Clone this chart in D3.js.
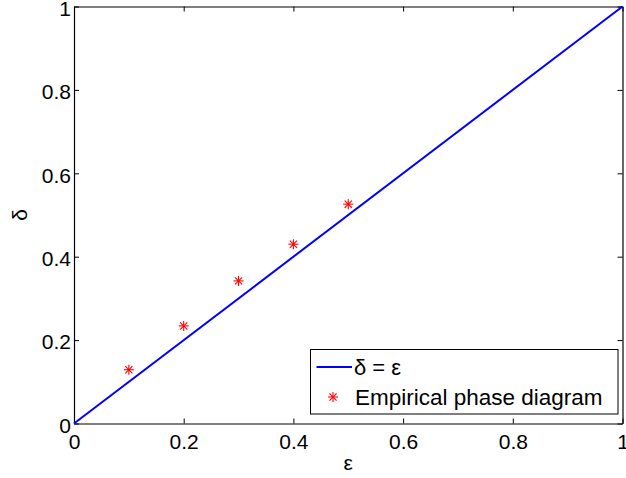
<!DOCTYPE html>
<html><head><meta charset="utf-8">
<script src="https://cdn.jsdelivr.net/npm/d3@7"></script>
<style>body{margin:0;background:#fff}svg{display:block}text{font-family:"Liberation Sans",Arial,sans-serif}</style>
</head><body><svg id="c" width="626" height="478"></svg>
<script>
const tickValues = [0, 0.2, 0.4, 0.6, 0.8, 1];
const tickLabels = ["0", "0.2", "0.4", "0.6", "0.8", "1"];
const lineX = [0, 1];
const lineY = [0, 1];
const empX = [0.1, 0.2, 0.3, 0.4, 0.5];
const empY = [0.129, 0.234, 0.342, 0.430, 0.526];
const legendLabels = ["δ = ε", "Empirical phase diagram"];

const svg = d3.select("#c");
const L = 74, R = 622.5, T = 6.5, B = 423.5;
const x = d3.scaleLinear().domain([0, 1]).range([L, R]);
const y = d3.scaleLinear().domain([0, 1]).range([B, T]);
const fmt = (d) => tickLabels[tickValues.indexOf(d)];
const fs = "21px";

// axes
const gB = svg.append("g").attr("transform", `translate(0,${B})`)
  .call(d3.axisBottom(x).tickValues(tickValues).tickFormat(fmt).tickSizeInner(-5).tickSizeOuter(0).tickPadding(11));
const gT = svg.append("g").attr("transform", `translate(0,${T})`)
  .call(d3.axisTop(x).tickValues(tickValues).tickFormat("").tickSizeInner(-5).tickSizeOuter(0));
const gL = svg.append("g").attr("transform", `translate(${L},0)`)
  .call(d3.axisLeft(y).tickValues(tickValues).tickFormat(fmt).tickSizeInner(-5).tickSizeOuter(0).tickPadding(3));
const gR = svg.append("g").attr("transform", `translate(${R},0)`)
  .call(d3.axisRight(y).tickValues(tickValues).tickFormat("").tickSizeInner(-5).tickSizeOuter(0));
[gB, gT, gL, gR].forEach(g => {
  g.select(".domain").attr("stroke", "#000").attr("stroke-width", 1.2);
  g.selectAll(".tick line").attr("stroke", "#000");
  g.selectAll("text").attr("font-size", fs).attr("fill", "#000").attr("font-family", '"Liberation Sans",Arial,sans-serif');
});
gB.selectAll("text").attr("dy", "0.71em");
gL.selectAll("text").attr("dy", "0.42em");

// line
svg.append("path")
  .datum(lineX.map((d, i) => [d, lineY[i]]))
  .attr("d", d3.line().x(d => x(d[0])).y(d => y(d[1])))
  .attr("fill", "none").attr("stroke", "#0000ff").attr("stroke-width", 2);

// star markers
function star(g, cx, cy, r) {
  const s = g.append("g").attr("transform", `translate(${cx},${cy})`).attr("stroke", "#ff0000").attr("stroke-width", 1.1);
  s.append("line").attr("x1", -r).attr("x2", r).attr("y1", 0).attr("y2", 0);
  s.append("line").attr("x1", 0).attr("x2", 0).attr("y1", -r).attr("y2", r);
  const d = r * 0.72;
  s.append("line").attr("x1", -d).attr("x2", d).attr("y1", -d).attr("y2", d);
  s.append("line").attr("x1", -d).attr("x2", d).attr("y1", d).attr("y2", -d);
}
const gp = svg.append("g");
empX.forEach((d, i) => star(gp, x(d), y(empY[i]), 5));

// labels
svg.append("text").attr("x", (L + R) / 2).attr("y", 470).attr("text-anchor", "middle")
  .attr("font-family", '"Liberation Serif","Times New Roman",serif').attr("font-size", "21px").text("ε");
svg.append("text").attr("transform", `translate(27,${(T + B) / 2}) rotate(-90)`).attr("text-anchor", "middle")
  .attr("font-family", '"Liberation Serif","Times New Roman",serif').attr("font-size", "21px").text("δ");

// legend
const lg = svg.append("g");
lg.append("rect").attr("x", 310.5).attr("y", 349.5).attr("width", 307.5).attr("height", 64.5)
  .attr("fill", "#fff").attr("stroke", "#000").attr("stroke-width", 1);
lg.append("line").attr("x1", 316.5).attr("x2", 352).attr("y1", 367).attr("y2", 367)
  .attr("stroke", "#0000ff").attr("stroke-width", 2);
star(lg, 333, 397, 5);
lg.append("text").attr("x", 354).attr("y", 375).attr("font-size", "22px")
  .attr("font-family", '"Liberation Serif","Times New Roman",serif').text(legendLabels[0]);
lg.append("text").attr("x", 355).attr("y", 405).attr("font-size", "22.5px").text(legendLabels[1]);
</script></body></html>
